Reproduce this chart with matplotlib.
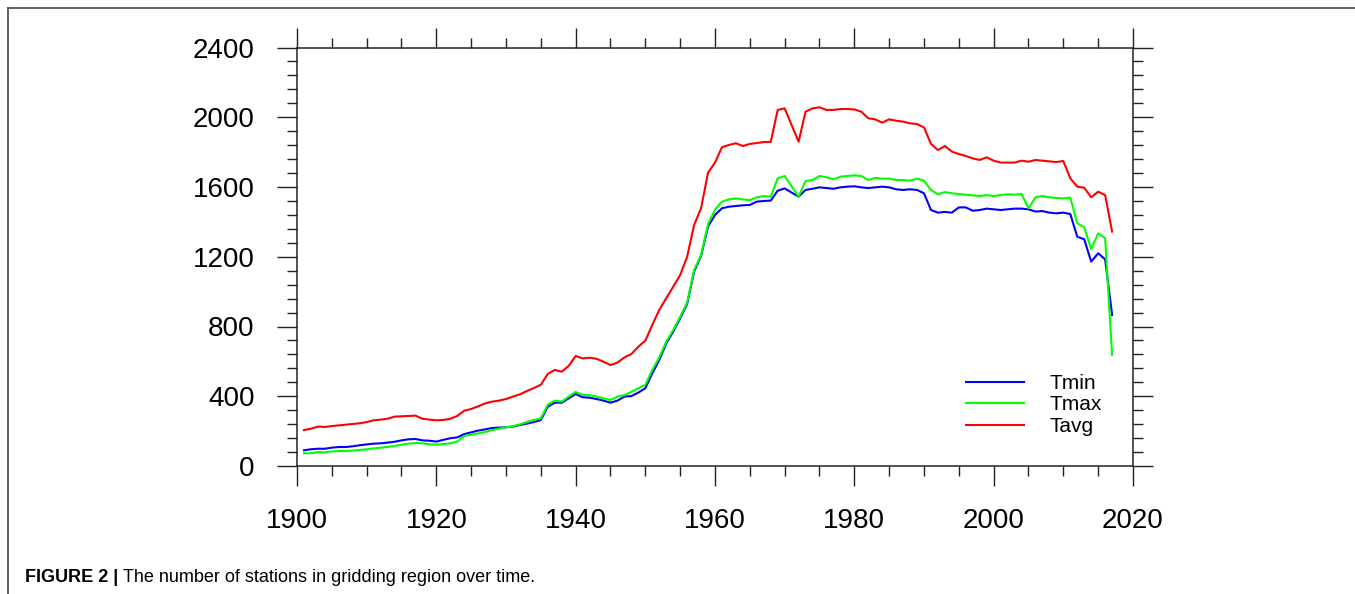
import numpy as np
import matplotlib
matplotlib.use("Agg")
import matplotlib.pyplot as plt
from matplotlib.ticker import MultipleLocator
from matplotlib.lines import Line2D

plt.rcParams['font.family'] = ['Liberation Sans', 'DejaVu Sans']

years = list(range(1901, 2018))

tmin = [
    90, 96, 99, 99, 105, 109, 109, 113, 119, 124,
    128, 130, 134, 139, 147, 153, 155, 147, 145, 140,
    150, 159, 164, 183, 193, 203, 210, 218, 220, 222,
    226, 235, 243, 252, 264, 340, 363, 363, 388, 413,
    394, 392, 384, 375, 363, 375, 398, 401, 421, 446,
    531, 608, 703, 770, 847, 929, 1115, 1204, 1373, 1440,
    1478, 1487, 1491, 1495, 1497, 1516, 1520, 1522, 1579, 1592,
    1568, 1545, 1583, 1590, 1598, 1594, 1590, 1598, 1602, 1604,
    1598, 1594, 1598, 1602, 1598, 1587, 1583, 1587, 1583, 1564,
    1468, 1453, 1457, 1453, 1483, 1483, 1464, 1468, 1476, 1472,
    1468, 1472, 1476, 1476, 1472, 1459, 1462, 1453, 1449, 1453,
    1445, 1315, 1300, 1172, 1220, 1185, 866,
]

tmax = [
    73, 73, 80, 78, 84, 86, 86, 88, 92, 96,
    101, 105, 109, 115, 122, 128, 132, 130, 124, 123,
    126, 130, 140, 172, 180, 187, 195, 206, 214, 222,
    228, 239, 252, 264, 273, 352, 375, 369, 398, 425,
    407, 407, 398, 388, 379, 398, 407, 426, 446, 465,
    551, 623, 713, 780, 856, 937, 1124, 1210, 1388, 1470,
    1516, 1529, 1535, 1529, 1525, 1541, 1548, 1544, 1650, 1663,
    1604, 1545, 1634, 1640, 1663, 1656, 1644, 1659, 1663, 1667,
    1663, 1640, 1652, 1648, 1648, 1640, 1640, 1636, 1648, 1636,
    1583, 1558, 1571, 1564, 1560, 1556, 1552, 1548, 1554, 1548,
    1554, 1558, 1556, 1560, 1478, 1541, 1548, 1541, 1537, 1535,
    1539, 1392, 1369, 1244, 1334, 1306, 637,
]

tavg = [
    206, 214, 226, 224, 229, 233, 237, 241, 245, 252,
    262, 266, 271, 283, 285, 287, 289, 271, 266, 262,
    264, 271, 287, 317, 327, 342, 359, 369, 375, 384,
    398, 411, 430, 447, 466, 528, 551, 541, 574, 631,
    617, 621, 615, 598, 579, 593, 623, 642, 684, 719,
    809, 895, 962, 1028, 1095, 1200, 1382, 1478, 1682, 1740,
    1828, 1841, 1851, 1835, 1847, 1852, 1858, 1858, 2042, 2051,
    1955, 1860, 2032, 2051, 2057, 2042, 2042, 2047, 2047, 2045,
    2032, 1994, 1988, 1969, 1988, 1980, 1975, 1965, 1961, 1942,
    1847, 1812, 1835, 1803, 1789, 1778, 1764, 1755, 1770, 1751,
    1740, 1740, 1740, 1751, 1745, 1755, 1751, 1747, 1743, 1749,
    1650, 1602, 1596, 1541, 1573, 1554, 1344,
]

series_names = ["Tmin", "Tmax", "Tavg"]
series_colors = ["#0000ff", "#00ff00", "#ff0000"]

x_ticks = list(range(1900, 2021, 20))
y_ticks = list(range(0, 2401, 400))

fig = plt.figure(figsize=(13.55, 5.94), dpi=100)
ax = fig.add_axes([297 / 1355, 1 - 466 / 594, (1133 - 297) / 1355, (466 - 47.5) / 594])

for vals, name, col in zip([tmin, tmax, tavg], series_names, series_colors):
    ax.plot(years, vals, color=col, lw=1.5, label=name)

ax.set_xlim(1900, 2020)
ax.set_ylim(0, 2400)
ax.set_xticks(x_ticks)
ax.set_yticks(y_ticks)
ax.xaxis.set_minor_locator(MultipleLocator(5))
ax.yaxis.set_minor_locator(MultipleLocator(80))
ax.tick_params(which='both', direction='out', top=True, right=True,
               color='#222222', width=1.0)
ax.tick_params(which='major', length=14.5, pad=16, labelsize=20)
ax.tick_params(which='minor', length=7.2)
for sp in ax.spines.values():
    sp.set_linewidth(1.1)
    sp.set_color('#222222')

leg = ax.legend(loc='upper left', bbox_to_anchor=((966 - 297) / 836, 1 - (374 - 47.5) / 418.5),
                frameon=False, fontsize=15, handlelength=2.8, handletextpad=1.2,
                labelspacing=0.12, borderpad=0, borderaxespad=0)

# figure frame (top and left rules)
fig.add_artist(Line2D([8 / 1355, 1], [1 - 7.5 / 594, 1 - 7.5 / 594], color='#555555', lw=1.3,
                      transform=fig.transFigure))
fig.add_artist(Line2D([8 / 1355, 8 / 1355], [0, 1 - 7.5 / 594], color='#555555', lw=1.3,
                      transform=fig.transFigure))

# caption
t1 = fig.text(25 / 1355, 1 - 578 / 594, "FIGURE 2 | ", fontsize=13, fontweight='bold',
              va='center', ha='left')
fig.canvas.draw()
bb = t1.get_window_extent()
fig.text(bb.x1 / fig.bbox.width, 1 - 578 / 594,
         "The number of stations in gridding region over time.", fontsize=13,
         va='center', ha='left')

fig.savefig("out.png", dpi=100)
